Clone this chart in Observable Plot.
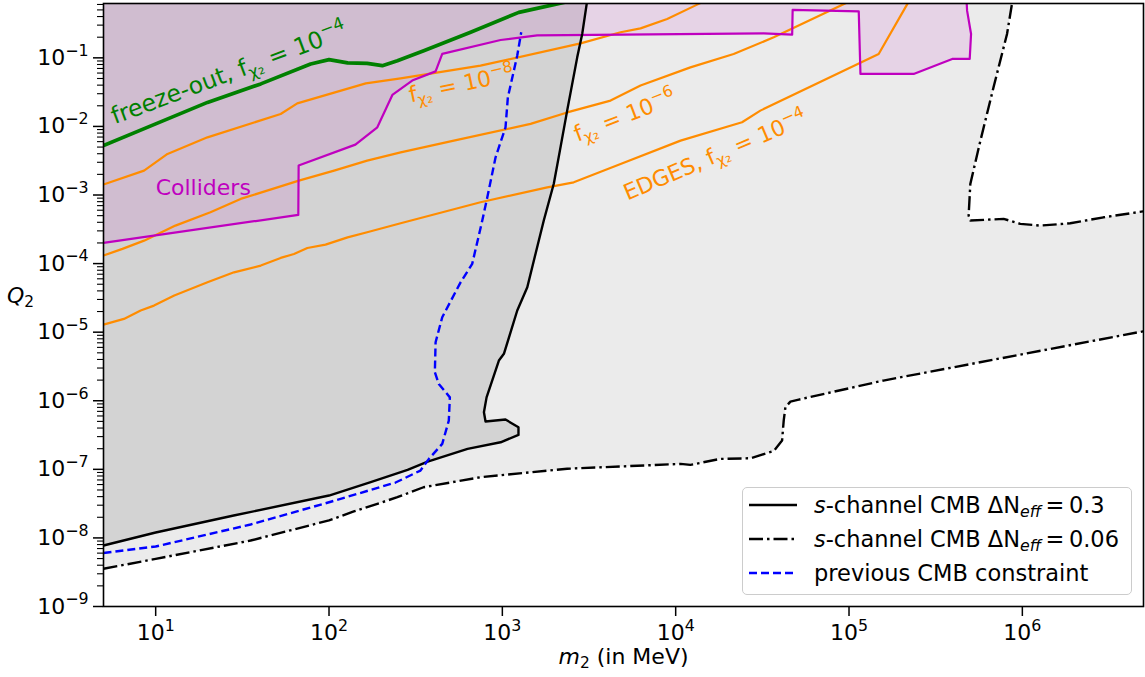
<!DOCTYPE html>
<html><head><meta charset="utf-8">
<script src="https://cdn.jsdelivr.net/npm/d3@7"></script>
<script src="https://cdn.jsdelivr.net/npm/@observablehq/plot@0.6"></script>
<style>
body{margin:0;background:#fff;font-family:"DejaVu Sans",sans-serif;}
#wrap{position:relative;width:1145px;height:677px;}
#legend{position:absolute;left:742px;top:487px;width:388px;height:106px;border:1px solid #cccccc;border-radius:5px;background:rgba(255,255,255,0.8);font-size:22.5px;color:#000;}
.row{position:absolute;left:0;height:30px;line-height:30px;white-space:nowrap;}
.row svg{position:absolute;left:6px;top:0}
.row span{position:absolute;left:71px;top:0}
sub{font-size:0.7em;vertical-align:-0.25em;line-height:0}
</style></head><body><div id="wrap"></div>
<script>
// ---- data (m2 in MeV, Q2) ----
const cmb03 = [[5,7.75e-9],[10,1.2e-8],[28.2,2.12e-8],[100,4.15e-8],[174,6.49e-8],[284,9.84e-8],[371,1.30e-7],[630,1.99e-7],[977,2.48e-7],[1239,3.18e-7],[1239,4.11e-7],[1043,5.32e-7],[800,4.98e-7],[783,6.79e-7],[811,1.12e-6],[955,3.86e-6],[1021,4.83e-6],[1219,2.07e-5],[1393,4.52e-5],[1553,1.38e-4],[1734,4.24e-4],[1982,1.47e-3],[2148,4.44e-3],[2366,1.70e-2],[2704,0.1016],[2891,0.225],[3062,0.597],[3206,1.33]];
const cmb006Low = [[5,3.55e-9],[10,4.95e-9],[35.3,9.16e-9],[100,1.80e-8],[139,2.43e-8],[248,3.92e-8],[351,5.48e-8],[748,7.67e-8],[2366,1.02e-7],[10670,1.20e-7],[12160,1.16e-7],[18100,1.42e-7],[26980,1.45e-7],[36800,1.85e-7],[41100,2.63e-7],[42000,5.14e-7],[42950,8.03e-7],[45900,9.72e-7],[51300,1.04e-6],[157800,1.97e-6],[5e6,1.03e-5]];
const cmb006Pocket = [[916000,1.33],[816000,0.223],[682000,0.0372],[573000,6.21e-3],[501000,1.45e-3],[490000,5.01e-4],[501000,4.24e-4],[780000,4.49e-4],[973000,3.80e-4],[1.27e6,3.58e-4],[1.89e6,3.87e-4],[2.94e6,4.73e-4],[5e6,5.78e-4]];
const prevCMB = [[5,6.03e-9],[10,7.5e-9],[35.3,1.57e-8],[100,3.31e-8],[242,6.42e-8],[337,9.6e-8],[377,1.42e-7],[450,2.35e-7],[491,5.14e-7],[498,1.12e-6],[430,1.76e-6],[408,2.60e-6],[412,7.13e-6],[450,1.65e-5],[574,5.33e-5],[670,9.9e-5],[766,4.24e-4],[819,9.25e-4],[914,3.55e-3],[1043,9.7e-3],[1076,2.65e-2],[1219,0.108],[1285,0.236]];
const colliders = [[5,2.0e-4],[66.5,5.13e-4],[66.8,2.69e-3],[142,5.43e-3],[190,9.7e-3],[232,2.88e-2],[302,4.66e-2],[412,6.35e-2],[450,0.114],[977,0.182],[1589,0.213],[32200,0.228],[47000,0.218],[47300,0.499],[113800,0.476],[116400,0.0582],[236000,0.0582],[394000,0.0964],[497000,0.0964],[506000,0.223],[480000,0.488],[475000,0.805]];
const freezeOut = [[5,5.25e-3],[10,1.09e-2],[19.9,2.24e-2],[40.4,4.17e-2],[78.3,8.15e-2],[100,0.0942],[128,0.0843],[166,0.083],[203,0.0769],[248,0.091],[352,0.127],[656,0.236],[1245,0.46],[1982,0.597],[3141,0.773]];
const f1e8 = [[5,1.42e-3],[8.57,2.27e-3],[11.7,3.97e-3],[19.9,6.93e-3],[52.6,1.52e-2],[65.6,2.17e-2],[97.7,2.91e-2],[163,4.25e-2],[259,5.02e-2],[748,7.69e-2],[2825,0.1626],[4810,0.236],[6270,0.269],[8930,0.369],[13300,0.597],[19800,0.96]];
const f1e6 = [[5,1.31e-4],[6.43,1.64e-4],[8.57,2.16e-4],[13.0,3.58e-4],[20.7,5.6e-4],[30.9,8.77e-4],[50.4,1.29e-3],[67.0,1.62e-3],[107,2.27e-3],[166,3.17e-3],[259,4.19e-3],[525,6.21e-3],[1455,1.09e-2],[2366,1.60e-2],[4210,2.38e-2],[6270,3.94e-2],[12160,7.26e-2],[21600,0.114],[36800,0.199],[89100,0.577],[116400,0.79]];
const edges = [[5,1.29e-5],[6.56,1.56e-5],[8.19,2.07e-5],[9.78,2.44e-5],[12.8,3.42e-5],[19.9,5.33e-5],[28.3,7.46e-5],[40.4,9.35e-5],[52.6,1.21e-4],[62.8,1.38e-4],[75.0,1.69e-4],[95.5,1.89e-4],[128,2.41e-4],[166,2.86e-4],[259,3.87e-4],[748,7.83e-4],[1816,1.29e-3],[2582,1.53e-3],[4810,2.84e-3],[10670,6.21e-3],[24150,1.15e-2],[30800,1.70e-2],[148300,0.114],[216000,0.597],[233500,0.834]];
const xTicks = [10,100,1e3,1e4,1e5,1e6];
const yTicks = [1e-9,1e-8,1e-7,1e-6,1e-5,1e-4,1e-3,1e-2,1e-1];
const noteText = ["freeze-out, f_{χ₂}\u2004=\u200410^{−4}","Colliders","f_{χ₂}\u2004=\u200410^{−8}","f_{χ₂}\u2004=\u200410^{−6}","EDGES, f_{χ₂}\u2004=\u200410^{−4}"];
const noteM = [5.6,10,290,2624,5080];
const noteQ = [1.36e-2,1.28e-3,2.82e-2,7.46e-3,1.03e-3];
const noteColor = ["green","#bf00bf","#ff8c00","#ff8c00","#ff8c00"];
const noteRot = [-20.5,0,-12,-21,-23];
const noteSize = [23.5,22,22,22,22];

// ---- derived ----
const pts = a => a.map(([m,q]) => ({m,q}));
const yMinor = [];
for (let e=-9;e<=-1;e++) for (let k=2;k<=9;k++){const v=k*Math.pow(10,e); if (v<=0.62) yMinor.push(v);}
const yTop = 1.33;
const lightRegion = pts([[5,yTop],...cmb006Low,...cmb006Pocket.slice().reverse()]);
const darkRegion = pts([[5,yTop],...cmb03]);
const collFill = pts([...colliders,[475000,yTop],[5,yTop]]);
const sup = d => `10^{${String(Math.round(Math.log10(d))).replace("-","−")}}`;
const L = (data, o) => Plot.line(pts(data), {x:"m", y:"q", clip:true, strokeLinecap:"butt", strokeLinejoin:"round", ...o});
const DD = "14,4,2.5,4";

const plot = Plot.plot({
  width:1145, height:677,
  marginLeft:103, marginRight:2, marginTop:3, marginBottom:71,
  x:{type:"log", domain:[5,5e6]},
  y:{type:"log", domain:[1e-9,0.62]},
  style:{fontFamily:"DejaVu Sans", fontSize:"22px", color:"black", background:"white"},
  marks:[
    Plot.line(lightRegion,{x:"m",y:"q",fill:"#ebebeb",stroke:"none",curve:"linear-closed",clip:true}),
    Plot.line(darkRegion,{x:"m",y:"q",fill:"#d3d3d3",stroke:"none",curve:"linear-closed",clip:true}),
    Plot.line(collFill,{x:"m",y:"q",fill:"#bf00bf",fillOpacity:0.1,stroke:"none",curve:"linear-closed",clip:true}),
    L(f1e8,{stroke:"#ff8c00",strokeWidth:2.2}),
    L(f1e6,{stroke:"#ff8c00",strokeWidth:2.2}),
    L(edges,{stroke:"#ff8c00",strokeWidth:2.2}),
    L(colliders,{stroke:"#bf00bf",strokeWidth:2.2}),
    L(freezeOut,{stroke:"green",strokeWidth:3.7}),
    L(cmb03,{stroke:"black",strokeWidth:2.4}),
    L(cmb006Low,{stroke:"black",strokeWidth:2.4,strokeDasharray:DD}),
    L(cmb006Pocket,{stroke:"black",strokeWidth:2.4,strokeDasharray:DD}),
    L(prevCMB,{stroke:"blue",strokeWidth:2.4,strokeDasharray:"8,4"}),
    ...noteText.map((t,i) => Plot.text([t],{x:()=>noteM[i], y:()=>noteQ[i], text:d=>d, fill:noteColor[i], rotate:noteRot[i], textAnchor:"start", fontSize:noteSize[i]})),
    Plot.axisX({ticks:xTicks, tickSize:10, tickPadding:8, tickFormat:sup, label:null, fontSize:22, strokeWidth:1.5}),
    Plot.axisY({ticks:yTicks, tickSize:10, tickPadding:5, tickFormat:sup, label:null, fontSize:22, strokeWidth:1.5}),
    Plot.axisY({ticks:yMinor, tickSize:6, tickFormat:()=>"", label:null, strokeWidth:1.1}),
    Plot.text(["*m*_{2} (in MeV)"],{frameAnchor:"bottom", dy:57, text:d=>d, fontSize:22, textAnchor:"middle"}),
    Plot.text(["*Q*_{2}"],{frameAnchor:"left", dx:-83, dy:-9, text:d=>d, fontSize:22, textAnchor:"middle"}),
    Plot.frame({stroke:"black", strokeWidth:1.6})
  ]
});
const wrap = document.getElementById("wrap");
wrap.appendChild(plot);

// convert simple markup (^{}, _{}, *italic*) into tspans
const NS = "http://www.w3.org/2000/svg";
function mathify(el){
  const s = el.textContent;
  if (!/\^\{|_\{|\*/.test(s)) return;
  const fs = parseFloat(getComputedStyle(el).fontSize) || 20;
  el.textContent = "";
  const re = /\^\{([^}]*)\}|_\{([^}]*)\}|\*([^*]*)\*|([^\^_*]+)/g;
  let m, cur = 0;
  while ((m = re.exec(s))) {
    let txt, off = 0, size = null, it = false;
    if (m[1] !== undefined) { txt = m[1]; off = -0.42*fs; size = 0.72*fs; }
    else if (m[2] !== undefined) { txt = m[2]; off = 0.2*fs; size = 0.7*fs; }
    else if (m[3] !== undefined) { txt = m[3]; it = true; }
    else txt = m[4];
    const t = document.createElementNS(NS,"tspan");
    t.textContent = txt;
    if (off !== cur) t.setAttribute("dy", off - cur);
    cur = off;
    if (size) t.setAttribute("font-size", size);
    if (it) t.setAttribute("font-style", "italic");
    el.appendChild(t);
  }
}
plot.querySelectorAll("text").forEach(mathify);

// legend
const legendItems = [
  {html:'<i>s</i>-channel CMB ΔN<sub><i>eff</i></sub>\u2009=\u20090.3', dash:null, color:"black"},
  {html:'<i>s</i>-channel CMB ΔN<sub><i>eff</i></sub>\u2009=\u20090.06', dash:DD, color:"black"},
  {html:'previous CMB constraint', dash:"8,4", color:"blue"}
];
const legendTops = [2, 36.3, 70.3];
const lg = document.createElement("div");
lg.id = "legend";
legendItems.forEach((it,i) => {
  const r = document.createElement("div");
  r.className = "row";
  r.style.top = legendTops[i] + "px";
  r.innerHTML = `<svg width="48" height="30"><line x1="0" x2="48" y1="15" y2="15" stroke="${it.color}" stroke-width="2.4" ${it.dash?`stroke-dasharray="${it.dash}"`:""}/></svg><span>${it.html}</span>`;
  lg.appendChild(r);
});
wrap.appendChild(lg);
</script></body></html>
